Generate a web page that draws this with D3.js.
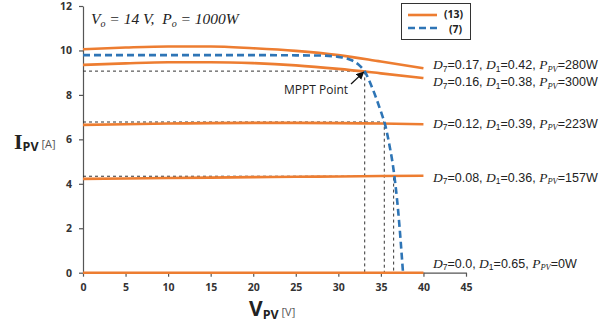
<!DOCTYPE html>
<html>
<head>
<meta charset="utf-8">
<script src="https://cdn.jsdelivr.net/npm/d3@7"></script>
<style>
  body { margin: 0; background: #fff; }
  svg { display: block; }
</style>
</head>
<body>
<script>
// voltage samples for the (13) curves
const vpv13 = [0, 5, 10, 15, 20, 25, 30, 35, 40];
const i017 = [10.05, 10.13, 10.18, 10.18, 10.1, 9.98, 9.79, 9.5, 9.2];
const i016 = [9.35, 9.42, 9.47, 9.47, 9.43, 9.33, 9.17, 8.97, 8.76];
const i012 = [6.65, 6.68, 6.71, 6.73, 6.74, 6.74, 6.73, 6.71, 6.68];
const i008 = [4.22, 4.24, 4.26, 4.28, 4.3, 4.32, 4.33, 4.35, 4.36];
const i000 = [0, 0, 0, 0, 0, 0, 0, 0, 0];

// PV curve (7)
const vpv7 = [0, 5, 10, 15, 20, 25, 28, 30, 31.5, 32.5, 33.1, 34, 35, 35.5, 36, 36.5, 37, 37.6];
const ipv7 = [9.79, 9.79, 9.79, 9.79, 9.79, 9.78, 9.77, 9.71, 9.57, 9.32, 9.05, 8.3, 7.25, 6.65, 5.75, 4.6, 2.9, 0];

// operating points (V, I) for the dashed guides
const opV = [33.1, 35.4, 36.5];
const opI = [9.07, 6.78, 4.34];

const xTicks = [0, 5, 10, 15, 20, 25, 30, 35, 40, 45];
const yTicks = [0, 2, 4, 6, 8, 10, 12];

const labels = [
  { d7: "0.17", d1: "0.42", p: "280W", i: 9.2 },
  { d7: "0.16", d1: "0.38", p: "300W", i: 8.76 },
  { d7: "0.12", d1: "0.39", p: "223W", i: 6.68 },
  { d7: "0.08", d1: "0.36", p: "157W", i: 4.36 },
  { d7: "0.0", d1: "0.65", p: "0W", i: 0 }
];
const labelDy = [1.2, 8, 3.5, 6, -5];

const width = 610, height = 331;
const orange = "#ED7D31", blue = "#2E75B6";
const serif = "'Liberation Serif', serif";
const sans = "'Open Sans', sans-serif";
const lsans = "'Liberation Sans', Arial, sans-serif";

const svg = d3.select("body").append("svg")
  .attr("width", width).attr("height", height);

const x = d3.scaleLinear().domain([0, 45]).range([83, 466]);
const y = d3.scaleLinear().domain([0, 12]).range([272.7, 6]);

// axes
const xAxis = svg.append("g")
  .attr("transform", "translate(0," + y(0) + ")")
  .call(d3.axisBottom(x).tickValues(xTicks).tickSize(4).tickSizeOuter(0));
const yAxis = svg.append("g")
  .attr("transform", "translate(" + x(0) + ",0)")
  .call(d3.axisLeft(y).tickValues(yTicks).tickSize(4).tickSizeOuter(0));

[xAxis, yAxis].forEach(function (g) {
  g.selectAll("path, line").attr("stroke", "#555").attr("stroke-width", 1.2);
  g.selectAll("text")
    .attr("font-family", sans)
    .attr("font-weight", "bold")
    .attr("font-size", 10.5)
    .attr("fill", "#333");
});
xAxis.selectAll("text").attr("dy", "1.1em");
yAxis.selectAll("text").attr("dx", "-4");

// dashed guides
const guides = svg.append("g")
  .attr("stroke", "#333").attr("stroke-width", 1).attr("stroke-dasharray", "3,3").attr("fill", "none");
opV.forEach(function (v, k) {
  guides.append("path")
    .attr("d", "M" + x(0) + "," + y(opI[k]) + "H" + x(v) + "V" + y(0));
});

const line = d3.line()
  .x(function (d) { return x(d[0]); })
  .y(function (d) { return y(d[1]); })
  .curve(d3.curveMonotoneX);

// (13) curves
[i017, i016, i012, i008, i000].forEach(function (s) {
  svg.append("path")
    .datum(vpv13.map(function (v, k) { return [v, s[k]]; }))
    .attr("d", line)
    .attr("fill", "none")
    .attr("stroke", orange)
    .attr("stroke-width", 2.6);
});

// (7) curve
svg.append("path")
  .datum(vpv7.map(function (v, k) { return [v, ipv7[k]]; }))
  .attr("d", line)
  .attr("fill", "none")
  .attr("stroke", blue)
  .attr("stroke-width", 2.6)
  .attr("stroke-dasharray", "7,4");

// arrow to MPPT
svg.append("defs").append("marker")
  .attr("id", "ah").attr("viewBox", "0 0 10 10")
  .attr("refX", 9).attr("refY", 5)
  .attr("markerWidth", 6).attr("markerHeight", 6)
  .attr("orient", "auto")
  .append("path").attr("d", "M0,0L10,5L0,10z").attr("fill", "#111");
svg.append("line")
  .attr("x1", 351).attr("y1", 84)
  .attr("x2", x(opV[0]) - 1).attr("y2", y(opI[0]) + 1)
  .attr("stroke", "#111").attr("stroke-width", 1.3)
  .attr("marker-end", "url(#ah)");
svg.append("text")
  .attr("x", 284).attr("y", 94)
  .attr("font-family", sans)
  .attr("font-size", 12).attr("fill", "#222")
  .text("MPPT Point");

// curve labels
labels.forEach(function (l, k) {
  const t = svg.append("text")
    .attr("x", 433).attr("y", y(l.i) + labelDy[k])
    .attr("font-family", lsans).attr("font-size", 12.5).attr("fill", "#222");
  t.append("tspan").attr("font-family", serif).attr("font-style", "italic").attr("font-size", 13.5).text("D");
  t.append("tspan").attr("font-size", 8.5).attr("dy", 2.5).text("7");
  t.append("tspan").attr("dy", -2.5).text("=" + l.d7 + ", ");
  t.append("tspan").attr("font-family", serif).attr("font-style", "italic").attr("font-size", 13.5).text("D");
  t.append("tspan").attr("font-size", 8.5).attr("dy", 2.5).text("1");
  t.append("tspan").attr("dy", -2.5).text("=" + l.d1 + ", ");
  t.append("tspan").attr("font-family", serif).attr("font-style", "italic").attr("font-size", 13.5).text("P");
  t.append("tspan").attr("font-family", serif).attr("font-style", "italic").attr("font-size", 8.5).attr("dy", 2.5).text("PV");
  t.append("tspan").attr("dy", -2.5).text("=" + l.p);
});

// operating condition
const cond = svg.append("text")
  .attr("x", 91).attr("y", 24)
  .attr("font-family", serif).attr("font-style", "italic")
  .attr("font-size", 15.5).attr("fill", "#222")
  .attr("xml:space", "preserve");
cond.append("tspan").text("V");
cond.append("tspan").attr("font-size", 10).attr("dy", 3).text("o");
cond.append("tspan").attr("dy", -3).text(" = 14 V,  P");
cond.append("tspan").attr("font-size", 10).attr("dy", 3).text("o");
cond.append("tspan").attr("dy", -3).text(" = 1000W");

// legend
const lg = svg.append("g");
lg.append("rect")
  .attr("x", 401.5).attr("y", 3.5).attr("width", 69).attr("height", 36)
  .attr("fill", "#fff").attr("stroke", "#333").attr("stroke-width", 1);
lg.append("line").attr("x1", 408).attr("x2", 437).attr("y1", 15).attr("y2", 15)
  .attr("stroke", orange).attr("stroke-width", 2.6);
lg.append("line").attr("x1", 408).attr("x2", 437).attr("y1", 28).attr("y2", 28)
  .attr("stroke", blue).attr("stroke-width", 2.6).attr("stroke-dasharray", "7,4");
lg.append("text").attr("x", 444).attr("y", 18).text("(13)");
lg.append("text").attr("x", 449).attr("y", 32.5).text("(7)");
lg.selectAll("text")
  .attr("font-family", sans).attr("font-weight", "bold")
  .attr("font-size", 10.5).attr("fill", "#222");

// axis titles
const yl = svg.append("text").attr("x", 14).attr("y", 149).attr("fill", "#222");
yl.append("tspan").attr("font-family", serif).attr("font-weight", "bold").attr("font-size", 22).text("I");
yl.append("tspan").attr("font-family", sans).attr("font-weight", "bold").attr("font-size", 12.5).attr("dy", 2).text("PV");
yl.append("tspan").attr("font-family", sans).attr("font-size", 11).attr("fill", "#555").attr("dy", -3).text(" [A]");

const xl = svg.append("text").attr("x", 249).attr("y", 316).attr("fill", "#222");
xl.append("tspan").attr("font-family", sans).attr("font-weight", "bold").attr("font-size", 21).text("V");
xl.append("tspan").attr("font-family", sans).attr("font-weight", "bold").attr("font-size", 12.5).attr("dy", 3).text("PV");
xl.append("tspan").attr("font-family", sans).attr("font-size", 11).attr("fill", "#555").attr("dy", -3).text(" [V]");
</script>
</body>
</html>
